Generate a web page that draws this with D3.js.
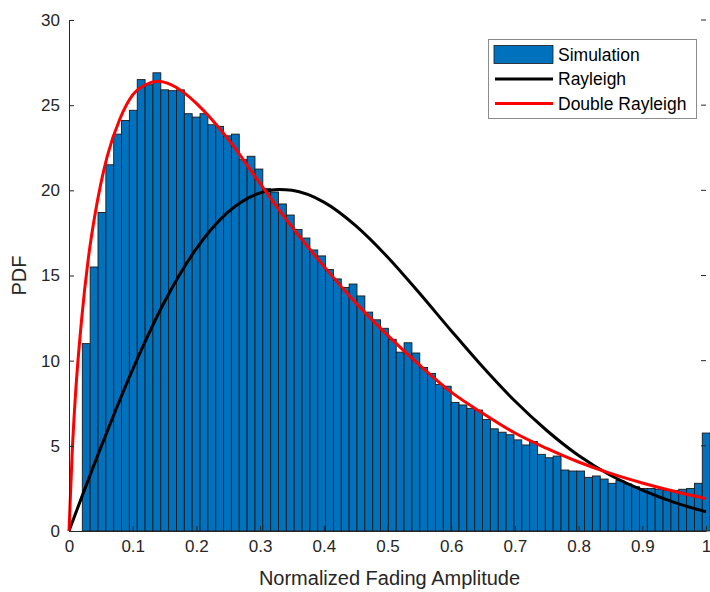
<!DOCTYPE html>
<html><head>
<meta charset="utf-8">
<title>PDF of normalized fading amplitude</title>
<script src="https://d3js.org/d3.v7.min.js"></script>
<style>
  body { margin: 0; background: #fff; }
  text { font-family: "Liberation Sans", Arial, Helvetica, sans-serif; }
  .tick text { fill: #262626; font-size: 17px; }
  .axis path, .axis line { stroke: #262626; }
</style>
</head>
<body>
<svg id="chart" width="710" height="592"></svg>
<script>

// histogram: 80 equal bins, first edge and width
const binStart = 0.0209;
const binWidth = 0.01232;
const simValues = [
  11.0, 15.5, 18.7, 21.5, 23.3, 24.1, 24.7, 26.5, 26.2, 26.9,
  25.9, 25.85, 25.9, 24.5, 24.3, 24.5, 23.85, 23.75, 23.2, 23.3,
  21.8, 22.0, 21.25, 20.1, 19.9, 19.2, 18.55, 17.7, 17.2, 16.5,
  16.15, 15.35, 14.8, 14.3, 14.5, 13.8, 12.85, 12.4, 11.9, 11.25,
  10.5, 11.05, 10.45, 9.6, 9.25, 8.6, 8.5, 7.55, 7.4, 7.2,
  7.1, 6.55, 6.0, 5.8, 5.65, 5.35, 5.05, 5.25, 4.5, 4.3,
  4.4, 3.58, 3.52, 3.52, 3.15, 3.23, 3.05, 2.8, 2.97, 2.76,
  2.6, 2.5, 2.5, 2.45, 2.37, 2.37, 2.45, 2.5, 2.8, 5.75
];

// Rayleigh curve, points
const rayX = [0, 0.05, 0.1, 0.15, 0.2, 0.25, 0.3, 0.33, 0.35, 0.4, 0.45, 0.5,
              0.55, 0.6, 0.65, 0.7, 0.75, 0.8, 0.85, 0.9, 0.95, 1.0];
const rayY = [0, 4.91, 9.49, 13.46, 16.58, 18.73, 19.85, 20.05, 20.0, 19.31, 17.93, 16.09,
              13.97, 11.76, 9.61, 7.63, 5.9, 4.43, 3.27, 2.4, 1.68, 1.13];

// Double Rayleigh curve
const dblX = [0, 0.005, 0.01, 0.02, 0.03, 0.04, 0.05, 0.06, 0.08, 0.1, 0.12, 0.14,
              0.16, 0.18, 0.2, 0.25, 0.3, 0.35, 0.4, 0.45, 0.5, 0.55, 0.6,
              0.65, 0.7, 0.75, 0.8, 0.85, 0.9, 0.95, 1.0];
const dblY = [0, 4.6, 7.9, 12.5, 15.9, 18.4, 20.4, 22.0, 24.2, 25.6, 26.2, 26.4,
              26.2, 25.75, 25.1, 23.0, 20.4, 17.85, 15.55, 13.4, 11.5, 9.75, 8.15,
              6.9, 5.75, 4.85, 4.05, 3.38, 2.82, 2.33, 1.9];

const xTicks = [0, 0.1, 0.2, 0.3, 0.4, 0.5, 0.6, 0.7, 0.8, 0.9, 1];
const yTicks = [0, 5, 10, 15, 20, 25, 30];

const svg = d3.select("#chart");
const plotLeft = 69, plotRight = 706, plotTop = 20, plotBottom = 531;

const x = d3.scaleLinear().domain([0, 1]).range([plotLeft, plotRight]);
const y = d3.scaleLinear().domain([0, 30]).range([plotBottom, plotTop]);

// bars
svg.append("g").selectAll("rect").data(simValues)
  .join("rect")
  .attr("x", (d, i) => x(binStart + i * binWidth))
  .attr("width", x(binStart + binWidth) - x(binStart))
  .attr("y", d => y(d))
  .attr("height", d => y(0) - y(d))
  .attr("fill", "#0072BD")
  .attr("stroke", "#1a1a1a")
  .attr("stroke-width", 0.9);

// curves
const line = d3.line().x(d => x(d[0])).y(d => y(d[1])).curve(d3.curveMonotoneX);

svg.append("path")
  .datum(rayX.map((v, i) => [v, rayY[i]]))
  .attr("d", line)
  .attr("fill", "none")
  .attr("stroke", "#000")
  .attr("stroke-width", 3);

svg.append("path")
  .datum(dblX.map((v, i) => [v, dblY[i]]))
  .attr("d", line)
  .attr("fill", "none")
  .attr("stroke", "#ff0000")
  .attr("stroke-width", 3);

// axes, MATLAB style ticks pointing inward
svg.append("g").attr("class", "axis")
  .attr("transform", "translate(0," + plotBottom + ")")
  .call(d3.axisBottom(x).tickValues(xTicks).tickFormat(d3.format("~g")).tickSizeInner(-5).tickSizeOuter(0).tickPadding(9));
svg.append("g").attr("class", "axis")
  .attr("transform", "translate(" + plotLeft + ",0)")
  .call(d3.axisLeft(y).tickValues(yTicks).tickSizeInner(-5).tickSizeOuter(0).tickPadding(9));

// right-side ticks
svg.append("g").selectAll("line").data(yTicks)
  .join("line")
  .attr("x1", plotRight).attr("x2", plotRight - 5)
  .attr("y1", d => y(d)).attr("y2", d => y(d))
  .attr("stroke", "#262626");

// axis labels
svg.append("text")
  .attr("x", (plotLeft + plotRight) / 2 + 2).attr("y", 585)
  .attr("text-anchor", "middle")
  .attr("fill", "#262626")
  .style("font-size", "20px")
  .text("Normalized Fading Amplitude");

svg.append("text")
  .attr("transform", "translate(26," + ((plotTop + plotBottom) / 2) + ") rotate(-90)")
  .attr("text-anchor", "middle")
  .attr("fill", "#262626")
  .style("font-size", "20px")
  .text("PDF");

// legend
const legend = svg.append("g");
legend.append("rect")
  .attr("x", 488.5).attr("y", 39.5).attr("width", 208).attr("height", 79)
  .attr("fill", "#fff").attr("stroke", "#8c8c8c").attr("stroke-width", 1);

const legendNames = ["Simulation", "Rayleigh", "Double Rayleigh"];
const legendColors = ["#0072BD", "#000", "#ff0000"];

legendNames.forEach((name, i) => {
  const cy = 54.5 + i * 24.5;
  if (i === 0) {
    legend.append("rect")
      .attr("x", 494).attr("y", cy - 9).attr("width", 59).attr("height", 18)
      .attr("fill", legendColors[i]).attr("stroke", "#1a1a1a").attr("stroke-width", 0.8);
  } else {
    legend.append("line")
      .attr("x1", 495).attr("x2", 553).attr("y1", cy).attr("y2", cy)
      .attr("stroke", legendColors[i]).attr("stroke-width", 3);
  }
  legend.append("text")
    .attr("x", 558).attr("y", cy)
    .attr("dy", "0.35em")
    .attr("fill", "#000")
    .style("font-size", "17.5px")
    .text(name);
});

</script>
</body>
</html>
